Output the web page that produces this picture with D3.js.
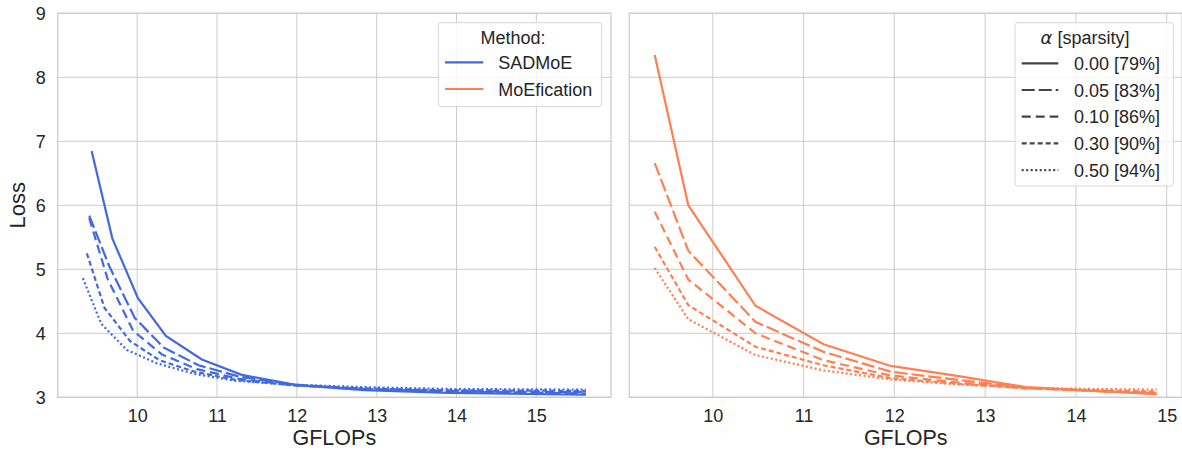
<!DOCTYPE html>
<html>
<head>
<meta charset="utf-8">
<script src="https://cdn.jsdelivr.net/npm/d3@7"></script>
<style>
  body { margin: 0; background: #fff; }
  text { font-family: "Liberation Sans", Arial, sans-serif; fill: #262626; }
</style>
</head>
<body>
<div id="main_container"></div>
<script>

var alphaLabels = ["0.00 [79%]", "0.05 [83%]", "0.10 [86%]", "0.30 [90%]", "0.50 [94%]"];
var methodNames = ["SADMoE", "MoEfication"];
var xTicks = [10, 11, 12, 13, 14, 15];
var yTicks = [3, 4, 5, 6, 7, 8, 9];

// SADMoE: every alpha has its own GFLOPs points
var sadmoeGflops = [
  [9.43, 9.69, 10.01, 10.36, 10.81, 11.31, 12.0, 12.85, 13.9, 15.62],
  [9.40, 9.65, 9.97, 10.33, 10.77, 11.29, 11.96, 12.8, 13.9, 15.62],
  [9.40, 9.63, 9.95, 10.31, 10.75, 11.27, 11.94, 12.8, 13.9, 15.62],
  [9.37, 9.59, 9.91, 10.28, 10.72, 11.24, 11.92, 12.8, 13.9, 15.62],
  [9.32, 9.55, 9.87, 10.25, 10.70, 11.22, 11.90, 12.8, 13.9, 15.62]
];
var sadmoeLoss = [
  [6.85, 5.48, 4.55, 3.96, 3.59, 3.35, 3.19, 3.11, 3.07, 3.04],
  [5.84, 5.05, 4.24, 3.78, 3.50, 3.32, 3.20, 3.13, 3.09, 3.06],
  [5.80, 4.85, 4.04, 3.67, 3.44, 3.29, 3.19, 3.13, 3.10, 3.08],
  [5.25, 4.40, 3.88, 3.58, 3.40, 3.27, 3.19, 3.14, 3.11, 3.10],
  [4.86, 4.15, 3.74, 3.53, 3.37, 3.26, 3.20, 3.16, 3.13, 3.12]
];

// MoEfication: same GFLOPs points for all alphas
var moeficationGflops = [9.36, 9.73, 10.47, 11.22, 11.96, 12.71, 13.45, 14.2, 14.89];
var moeficationLoss = [
  [8.35, 6.00, 4.43, 3.83, 3.49, 3.33, 3.16, 3.10, 3.05],
  [6.66, 5.29, 4.18, 3.71, 3.40, 3.27, 3.15, 3.10, 3.06],
  [5.90, 4.84, 4.00, 3.58, 3.34, 3.23, 3.14, 3.10, 3.07],
  [5.35, 4.44, 3.79, 3.50, 3.30, 3.21, 3.14, 3.11, 3.09],
  [5.02, 4.22, 3.66, 3.42, 3.28, 3.20, 3.15, 3.13, 3.12]
];

var methodColors = ["#4169e1", "#ff7f50"];
var dashes = [null, "13,4", "9,5", "5,3", "2,2.5"];
var GRID = "#cccccc";
var TICK_FONT = "18px";
var LEGEND_FONT = "18px";

var svg = d3.select("#main_container").append("svg")
  .attr("width", 1182)
  .attr("height", 450);

var y = d3.scaleLinear().domain([3, 9]).range([397.3, 13.3]);

var panels = [
  {x: d3.scaleLinear().domain([9.005, 15.935]).range([57.7, 611]), color: methodColors[0], showY: true,
    series: sadmoeLoss.map(function(loss, i) { return sadmoeGflops[i].map(function(g, j) { return [g, loss[j]]; }); })},
  {x: d3.scaleLinear().domain([9.08, 15.17]).range([629.3, 1182.1]), color: methodColors[1], showY: false,
    series: moeficationLoss.map(function(loss) { return moeficationGflops.map(function(g, j) { return [g, loss[j]]; }); })}
];

panels.forEach(drawPanel);
drawMethodLegend();
drawAlphaLegend();

function drawPanel(p) {
  var x = p.x;
  var g = svg.append("g");
  var x0 = x.range()[0], x1 = x.range()[1];

  // grid
  g.selectAll(".gx").data(xTicks).enter().append("line")
    .attr("x1", function(d) { return x(d); }).attr("x2", function(d) { return x(d); })
    .attr("y1", y(9)).attr("y2", y(3))
    .attr("stroke", GRID).attr("stroke-width", 1);
  g.selectAll(".gy").data(yTicks).enter().append("line")
    .attr("x1", x0).attr("x2", x1)
    .attr("y1", function(d) { return y(d); }).attr("y2", function(d) { return y(d); })
    .attr("stroke", GRID).attr("stroke-width", 1);
  g.append("rect")
    .attr("x", x0).attr("y", y(9)).attr("width", x1 - x0).attr("height", y(3) - y(9))
    .attr("fill", "none").attr("stroke", GRID).attr("stroke-width", 1.25);

  var xAxis = d3.axisBottom(x).tickValues(xTicks).tickSize(0).tickPadding(12).tickFormat(d3.format("d"));
  var ax = g.append("g").attr("transform", "translate(0," + y(3) + ")").call(xAxis);
  ax.select(".domain").remove();
  ax.selectAll("text").style("font-size", TICK_FONT).style("fill", "#262626");

  if (p.showY) {
    var yAxis = d3.axisLeft(y).tickValues(yTicks).tickSize(0).tickPadding(12).tickFormat(d3.format("d"));
    var ay = g.append("g").attr("transform", "translate(" + x0 + ",0)").call(yAxis);
    ay.select(".domain").remove();
    ay.selectAll("text").style("font-size", TICK_FONT).style("fill", "#262626");
    g.append("text")
      .attr("transform", "translate(25," + ((y(3) + y(9)) / 2) + ") rotate(-90)")
      .attr("text-anchor", "middle")
      .style("font-size", "22px")
      .text("Loss");
  }

  g.append("text")
    .attr("x", (x0 + x1) / 2).attr("y", 444.5)
    .attr("text-anchor", "middle")
    .style("font-size", "21.5px")
    .text("GFLOPs");

  var line = d3.line()
    .x(function(d) { return x(d[0]); })
    .y(function(d) { return y(d[1]); });

  g.selectAll(".series").data(p.series).enter().append("path")
    .attr("d", line)
    .attr("fill", "none")
    .attr("stroke", p.color)
    .attr("stroke-width", 2.2)
    .attr("stroke-dasharray", function(d, i) { return dashes[i]; });
}

function legendBox(x0, y0, x1, y1) {
  svg.append("rect")
    .attr("x", x0).attr("y", y0).attr("width", x1 - x0).attr("height", y1 - y0)
    .attr("rx", 3).attr("ry", 3)
    .attr("fill", "#fff").attr("fill-opacity", 0.8)
    .attr("stroke", "#d6d6d6").attr("stroke-width", 1);
}

function drawMethodLegend() {
  legendBox(438.3, 22.7, 601.7, 106.7);
  svg.append("text")
    .attr("x", 513).attr("y", 43.5)
    .attr("text-anchor", "middle")
    .style("font-size", LEGEND_FONT)
    .text("Method:");
  methodNames.forEach(function(name, i) {
    var cy = 62.3 + i * 26.7;
    svg.append("line")
      .attr("x1", 445).attr("x2", 483.3).attr("y1", cy).attr("y2", cy)
      .attr("stroke", methodColors[i]).attr("stroke-width", 2.2);
    svg.append("text")
      .attr("x", 498.3).attr("y", cy + 6.5)
      .style("font-size", LEGEND_FONT)
      .text(name);
  });
}

function drawAlphaLegend() {
  legendBox(1015, 22.7, 1173.3, 186);
  var title = svg.append("text")
    .attr("x", 1085).attr("y", 44)
    .attr("text-anchor", "middle")
    .style("font-size", LEGEND_FONT);
  title.append("tspan").style("font-style", "italic").style("font-family", "DejaVu Sans").text("α");
  title.append("tspan").text(" [sparsity]");
  alphaLabels.forEach(function(label, i) {
    var cy = 63.3 + i * 26.7;
    svg.append("line")
      .attr("x1", 1021.7).attr("x2", 1058.3).attr("y1", cy).attr("y2", cy)
      .attr("stroke", "#444").attr("stroke-width", 2.2)
      .attr("stroke-dasharray", dashes[i]);
    svg.append("text")
      .attr("x", 1074).attr("y", cy + 6.5)
      .style("font-size", LEGEND_FONT)
      .text(label);
  });
}
</script>
</body>
</html>
